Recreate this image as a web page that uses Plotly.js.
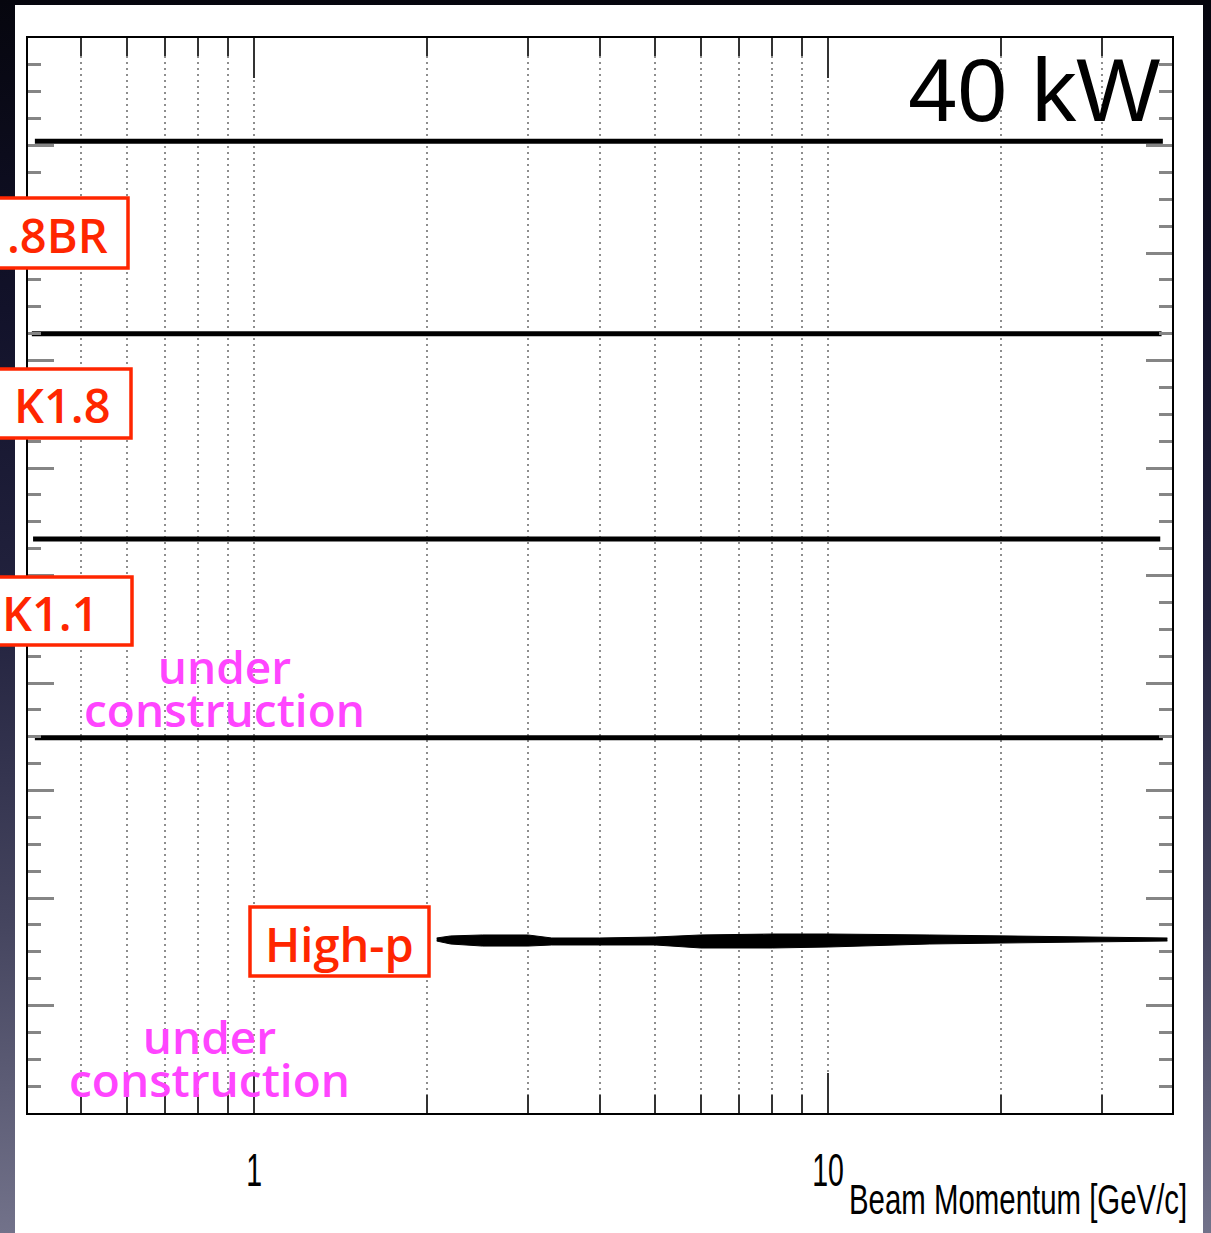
<!DOCTYPE html>
<html>
<head>
<meta charset="utf-8">
<script src="https://cdn.plot.ly/plotly-3.0.1.min.js"></script>
<style>
  html, body { margin: 0; padding: 0; }
  body {
    width: 1211px; height: 1233px; overflow: hidden; position: relative;
    background: linear-gradient(to bottom, #06060e 0%, #12122a 25%, #23233f 50%, #45455f 75%, #72728a 100%);
  }
  #sheet { position: absolute; left: 15px; top: 5px; width: 1188px; height: 1228px; background: #ffffff; }
  #chart { position: absolute; left: 0; top: 0; width: 1211px; height: 1233px; }
</style>
</head>
<body>
<div id="sheet"></div>
<div id="chart"></div>
<script>
// ---- data ----
// beamline bands: momentum range [GeV/c] and vertical position (arbitrary units, 0-10)
const lineNames = ["K1.8BR", "K1.8", "K1.1", "under construction"];
const lineXStart = [0.415, 0.410, 0.412, 0.415];
const lineXEnd   = [38.3, 38.1, 37.9, 38.3];
const lineY      = [9.04, 7.25, 5.34, 3.49];

// High-p band: momentum points with upper / lower edge of the drawn band
const highpX     = [2.08, 2.2, 2.5, 3.0, 3.3, 4.0, 5.0, 6.0, 8.0, 10, 15, 20, 30, 39];
const highpUpper = [1.628, 1.647, 1.656, 1.656, 1.628, 1.628, 1.637, 1.656, 1.665, 1.665, 1.656, 1.647, 1.637, 1.628];
const highpLower = [1.600, 1.572, 1.553, 1.553, 1.563, 1.563, 1.563, 1.535, 1.535, 1.544, 1.572, 1.581, 1.591, 1.600];

// axis ticks
const xMajorTicks = [1, 10];
const xMajorLabels = ["1", "10"];
const xMinorTicks = [0.5, 0.6, 0.7, 0.8, 0.9, 2, 3, 4, 5, 6, 7, 8, 9, 20, 30];
const xTitle = "Beam Momentum [GeV/c]";
const powerLabel = "40 kW";

// labels
const boxLabels = [".8BR", "K1.8", "K1.1", "High-p"];
const constructionText = "under<br>construction";

// ---- build traces ----
const traces = [];
for (let i = 0; i < lineY.length; i++) {
  traces.push({
    x: [lineXStart[i], lineXEnd[i]],
    y: [lineY[i], lineY[i]],
    mode: "lines",
    line: { color: "#000000", width: 5 },
    name: lineNames[i],
    hoverinfo: "skip",
    showlegend: false
  });
}
traces.push({
  x: highpX, y: highpLower, mode: "lines",
  line: { color: "#000000", width: 1 }, showlegend: false, hoverinfo: "skip"
});
traces.push({
  x: highpX, y: highpUpper, mode: "lines", fill: "tonexty", fillcolor: "#000000",
  line: { color: "#000000", width: 1 }, showlegend: false, hoverinfo: "skip", name: "High-p"
});

// ---- layout helpers (pixel -> paper) ----
const W = 1211, H = 1233;
const M = { l: 28, r: 39, t: 38, b: 120 };
const PW = W - M.l - M.r, PH = H - M.t - M.b;
const px = v => (v - M.l) / PW;
const py = v => (H - M.b - v) / PH;

const red = "#ff2600";
const magenta = "#ff45ff";
const labelFont = "Open Sans, sans-serif";

const boxes = [
  { x0: -6, x1: 128, y0: 198, y1: 268, cx: 57, cy: 235 },
  { x0: -6, x1: 131, y0: 369, y1: 438, cx: 62, cy: 405 },
  { x0: -6, x1: 132, y0: 577, y1: 645, cx: 50, cy: 613 },
  { x0: 250, x1: 429, y0: 907, y1: 976, cx: 339, cy: 944 }
];

const shapes = boxes.map(b => ({
  type: "rect", xref: "paper", yref: "paper",
  x0: px(b.x0), x1: px(b.x1), y0: py(b.y1), y1: py(b.y0),
  line: { color: red, width: 3.5 }, fillcolor: "#ffffff", layer: "above"
}));

const annotations = [];
boxes.forEach((b, i) => {
  annotations.push({
    xref: "paper", yref: "paper", x: px(b.cx), y: py(b.cy),
    xanchor: "center", yanchor: "middle", showarrow: false,
    text: boxLabels[i], font: { family: labelFont, size: 47, weight: 600, color: red }
  });
});
// centre of the two-line block (pixel coordinates)
const constructionPos = [
  { x: 224, y: 687.5 },
  { x: 209, y: 1058 }
];
constructionPos.forEach(p => {
  annotations.push({
    xref: "paper", yref: "paper", x: px(p.x), y: py(p.y), xanchor: "center", yanchor: "middle",
    showarrow: false, text: constructionText, align: "center",
    font: { family: labelFont, size: 46, weight: 600, color: magenta }
  });
});
annotations.push({
  xref: "paper", yref: "paper", x: px(1162), y: py(90), xanchor: "right", yanchor: "middle",
  showarrow: false, text: powerLabel, font: { family: "Liberation Sans, Arial, sans-serif", size: 89, color: "#000000" }
});
annotations.push({
  xref: "paper", yref: "paper", x: px(847), y: py(1199), xanchor: "left", yanchor: "middle",
  showarrow: false, text: xTitle,
  font: { family: "Liberation Sans, Arial, sans-serif", size: 42, color: "#000000" }
});

const layout = {
  width: W, height: H,
  margin: M,
  paper_bgcolor: "rgba(0,0,0,0)",
  plot_bgcolor: "#ffffff",
  showlegend: false,
  xaxis: {
    type: "log",
    range: [Math.log10(0.4037), Math.log10(39.73)],
    tickmode: "array", tickvals: xMajorTicks, ticktext: xMajorLabels,
    ticks: "inside", ticklen: 40, tickwidth: 2, tickcolor: "#333333",
    showline: true, linecolor: "#000000", linewidth: 2, mirror: "allticks",
    showgrid: true, gridcolor: "#8e8e8e", gridwidth: 2, griddash: "2px,4px",
    tickfont: { family: "Liberation Sans, Arial, sans-serif", size: 46, color: "#000000" },
    ticklabelstandoff: 16,
    zeroline: false, fixedrange: true,
    minor: {
      tickmode: "array", tickvals: xMinorTicks,
      ticks: "inside", ticklen: 18, tickwidth: 2, tickcolor: "#333333",
      showgrid: true, gridcolor: "#8e8e8e", gridwidth: 2, griddash: "2px,4px"
    }
  },
  yaxis: {
    range: [0, 10],
    tickmode: "linear", tick0: 0, dtick: 1,
    ticks: "inside", ticklen: 26, tickwidth: 3, tickcolor: "#858585",
    showticklabels: false,
    showline: true, linecolor: "#000000", linewidth: 2, mirror: "allticks",
    showgrid: false, zeroline: false, fixedrange: true,
    minor: { tick0: 0, dtick: 0.25, ticks: "inside", ticklen: 13, tickwidth: 3, tickcolor: "#858585", showgrid: false }
  },
  shapes: shapes,
  annotations: annotations
};

// horizontally condense a text element (the original uses a narrow font)
function condense(el, s, origin) {
  const bb = el.getBBox();
  const cx = origin === "left" ? bb.x : bb.x + bb.width / 2;
  const prev = el.getAttribute("transform") || "";
  el.setAttribute("transform", prev + " translate(" + cx + ",0) scale(" + s + ",1) translate(" + (-cx) + ",0)");
}

// tighten the leading of a two-line annotation (original lines are set close together)
function tighten(el, fontSize, leadingPx) {
  const lines = el.querySelectorAll("tspan.line");
  if (lines.length < 2) return;
  const defaultLead = 1.3 * fontSize;
  lines[1].setAttribute("dy", leadingPx + "px");
  const shift = (defaultLead - leadingPx) / 2;
  const prev = el.getAttribute("transform") || "";
  el.setAttribute("transform", prev + " translate(0," + shift + ")");
}

Plotly.newPlot("chart", traces, layout, { displayModeBar: false, staticPlot: true }).then(gd => {
  gd.querySelectorAll(".xtick text").forEach(t => condense(t, 0.62, "center"));
  gd.querySelectorAll(".annotation-text").forEach(t => {
    if (t.textContent === xTitle) condense(t, 0.70, "left");
    if (t.querySelectorAll("tspan.line").length === 2) tighten(t, 46, 43);
  });
});
</script>
</body>
</html>
